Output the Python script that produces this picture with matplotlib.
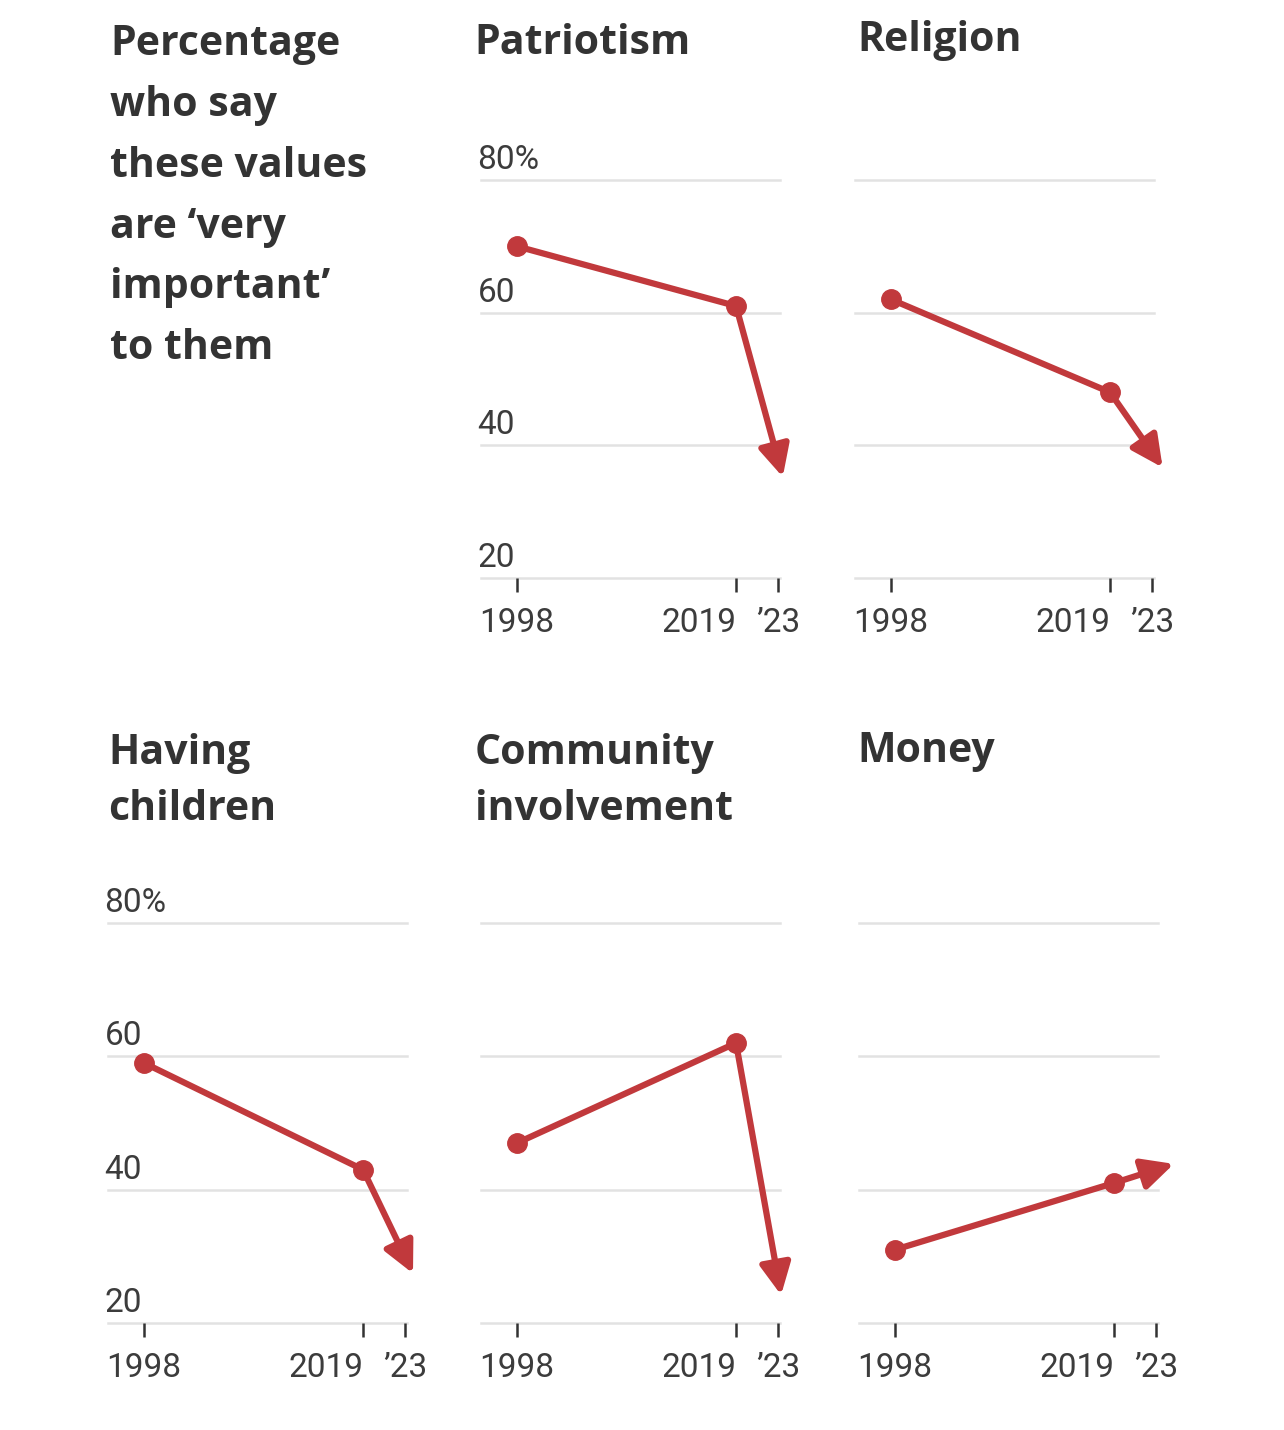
import numpy as np
import matplotlib.pyplot as plt
import matplotlib.transforms as mtransforms
from matplotlib.patches import FancyArrowPatch

years = [1998, 2019, 2023]
year_labels = ["1998", "2019", "\u201923"]
patriotism = [70, 61, 38]
religion = [62, 48, 39]
children = [59, 43, 30]
community = [47, 62, 27]
money = [31, 41, 43]

titles = ["Patriotism", "Religion", "Having\nchildren", "Community\ninvolvement", "Money"]
series = [patriotism, religion, children, community, money]
grid_values = [20, 40, 60, 80]
grid_labels = ["20", "40", "60", "80%"]

RED = "#c1393c"
TEXT = "#333333"
TICK_TEXT = "#3c3c3c"
GRID = "#e2e2e2"
W, H = 1284, 1430

title_font = ["Open Sans", "DejaVu Sans"]
tick_font = ["Roboto", "DejaVu Sans"]

fig = plt.figure(figsize=(W / 100, H / 100), dpi=100)

# panel geometry in pixels: (left, top, bottom, title x, title y, show y labels)
panels = [
    (480.5, 180, 578, 474, 23, True),
    (854.5, 180, 578, 857, 20, False),
    (107.5, 923, 1323, 108, 733, True),
    (480.5, 923, 1323, 475, 733, False),
    (858.5, 923, 1323, 857, 731, False),
]
xmin, xmax = 1994.5, 2023.2
px_per_year = 10.43

for (left, top, bottom, tx, ty, ylab), title, vals in zip(panels, titles, series):
    width = (xmax - xmin) * px_per_year
    ax = fig.add_axes([left / W, 1 - bottom / H, width / W, (bottom - top) / H])
    ax.set_xlim(xmin, xmax)
    ax.set_ylim(20, 80)
    for s in ax.spines.values():
        s.set_visible(False)
    for g in grid_values:
        ax.axhline(g, color=GRID, lw=1.8, zorder=1, clip_on=False)
    ax.set_yticks([])
    ax.set_xticks(years)
    ax.set_xticklabels(year_labels, family=tick_font, fontsize=24, color=TICK_TEXT)
    ax.get_xticklabels()[1].set_ha("right")
    ax.tick_params(axis="x", direction="out", length=10, width=1.8, color=TEXT, pad=11)

    if ylab:
        for g, lab in zip(grid_values, grid_labels):
            off = mtransforms.ScaledTranslation(-3 / 100, 4 / 100, fig.dpi_scale_trans)
            ax.text(xmin, g, lab, transform=ax.transData + off, ha="left", va="bottom",
                    family=tick_font, fontsize=24, color=TICK_TEXT)

    ax.plot(years[:2], vals[:2], color=RED, lw=4.5, marker="o", markersize=14,
            solid_capstyle="round", zorder=3, clip_on=False)

    # arrow from 2019 to 2023, tip pushed a little past the 2023 value
    p0 = ax.transData.transform((years[1], vals[1]))
    p1 = ax.transData.transform((years[2], vals[2]))
    d = (p1 - p0) / np.hypot(*(p1 - p0))
    tip = p1 + d * 19
    arrow = FancyArrowPatch(tuple(p0), tuple(tip), transform=None,
                            arrowstyle="-|>,head_length=0.95,head_width=0.47",
                            mutation_scale=20, color=RED, lw=4.5,
                            shrinkA=0, shrinkB=0, zorder=3)
    fig.add_artist(arrow)

    fig.text(tx / W, 1 - ty / H, title, ha="left", va="top", family=title_font,
             fontweight="bold", fontsize=29.5, color=TEXT, linespacing=1.47)

fig.text(110 / W, 1 - 24 / H,
         "Percentage\nwho say\nthese values\nare \u2018very\nimportant\u2019\nto them",
         ha="left", va="top", family=title_font, fontweight="bold", fontsize=29.5,
         color=TEXT, linespacing=1.64)

fig.savefig("out.png", dpi=100, facecolor="white")
